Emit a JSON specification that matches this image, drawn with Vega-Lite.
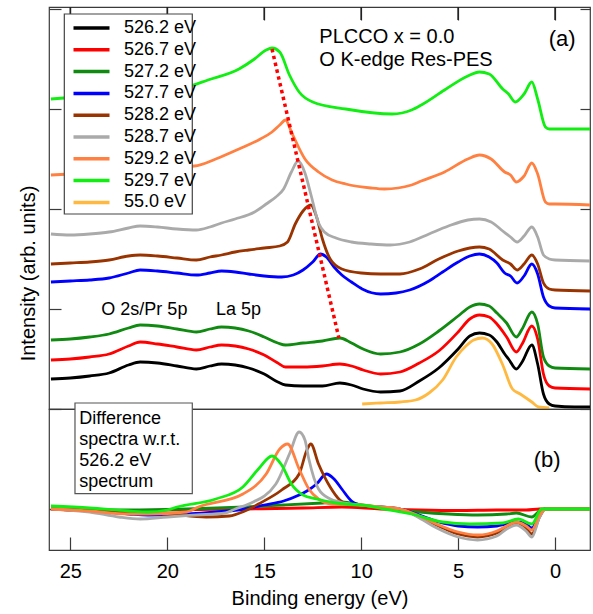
{
 "$schema": "https://vega.github.io/schema/vega-lite/v6.json",
 "padding": {"left": 17, "top": 5, "right": 5, "bottom": 5},
 "config": {
  "font": "Liberation Sans",
  "view": {"stroke": "#3a3a3a", "strokeWidth": 1.2},
  "axis": {"domain": false, "grid": false, "tickColor": "#3a3a3a", "tickWidth": 1.2, "labelColor": "#000", "titleColor": "#000", "labelFont": "Liberation Sans", "titleFont": "Liberation Sans", "titleFontWeight": "normal"},
  "text": {"font": "Liberation Sans", "color": "#000"}
 },
 "datasets": {
  "xt": [{"e": 25}, {"e": 20}, {"e": 15}, {"e": 10}, {"e": 5}, {"e": 0}],
  "a": [
   {"s":"526.2 eV","e":26,"v":0.30},{"s":"526.2 eV","e":25,"v":0.31},{"s":"526.2 eV","e":24,"v":0.33},{"s":"526.2 eV","e":23,"v":0.36},{"s":"526.2 eV","e":22,"v":0.44},{"s":"526.2 eV","e":21.4,"v":0.47},{"s":"526.2 eV","e":20.5,"v":0.46},{"s":"526.2 eV","e":19.5,"v":0.43},{"s":"526.2 eV","e":18.5,"v":0.40},{"s":"526.2 eV","e":17.8,"v":0.43},{"s":"526.2 eV","e":17.2,"v":0.45},{"s":"526.2 eV","e":16.5,"v":0.44},{"s":"526.2 eV","e":15.8,"v":0.41},{"s":"526.2 eV","e":15,"v":0.35},{"s":"526.2 eV","e":14.3,"v":0.27},{"s":"526.2 eV","e":13.9,"v":0.24},{"s":"526.2 eV","e":13,"v":0.23},{"s":"526.2 eV","e":12,"v":0.23},{"s":"526.2 eV","e":11.1,"v":0.26},{"s":"526.2 eV","e":10.5,"v":0.24},{"s":"526.2 eV","e":9.9,"v":0.20},{"s":"526.2 eV","e":9,"v":0.17},{"s":"526.2 eV","e":8,"v":0.18},{"s":"526.2 eV","e":7,"v":0.28},{"s":"526.2 eV","e":6,"v":0.41},{"s":"526.2 eV","e":5,"v":0.60},{"s":"526.2 eV","e":4.4,"v":0.73},{"s":"526.2 eV","e":3.9,"v":0.76},{"s":"526.2 eV","e":3.4,"v":0.74},{"s":"526.2 eV","e":3.0,"v":0.67},{"s":"526.2 eV","e":2.6,"v":0.55},{"s":"526.2 eV","e":2.4,"v":0.50},{"s":"526.2 eV","e":2.0,"v":0.40},{"s":"526.2 eV","e":1.7,"v":0.47},{"s":"526.2 eV","e":1.2,"v":0.64},{"s":"526.2 eV","e":0.9,"v":0.45},{"s":"526.2 eV","e":0.6,"v":0.15},{"s":"526.2 eV","e":0.3,"v":0.05},{"s":"526.2 eV","e":0,"v":0.03},{"s":"526.2 eV","e":-1,"v":0.02},{"s":"526.2 eV","e":-1.8,"v":0.02},
   {"s":"526.7 eV","e":26,"v":0.49},{"s":"526.7 eV","e":25,"v":0.50},{"s":"526.7 eV","e":24,"v":0.52},{"s":"526.7 eV","e":23,"v":0.55},{"s":"526.7 eV","e":22,"v":0.63},{"s":"526.7 eV","e":21.4,"v":0.67},{"s":"526.7 eV","e":20.5,"v":0.65},{"s":"526.7 eV","e":19.5,"v":0.62},{"s":"526.7 eV","e":18.5,"v":0.59},{"s":"526.7 eV","e":17.8,"v":0.62},{"s":"526.7 eV","e":17.2,"v":0.64},{"s":"526.7 eV","e":16.5,"v":0.63},{"s":"526.7 eV","e":15.8,"v":0.60},{"s":"526.7 eV","e":15,"v":0.54},{"s":"526.7 eV","e":14.3,"v":0.46},{"s":"526.7 eV","e":13.9,"v":0.42},{"s":"526.7 eV","e":13,"v":0.42},{"s":"526.7 eV","e":12,"v":0.43},{"s":"526.7 eV","e":11.1,"v":0.45},{"s":"526.7 eV","e":10.5,"v":0.43},{"s":"526.7 eV","e":9.9,"v":0.39},{"s":"526.7 eV","e":9,"v":0.35},{"s":"526.7 eV","e":8,"v":0.37},{"s":"526.7 eV","e":7,"v":0.46},{"s":"526.7 eV","e":6,"v":0.58},{"s":"526.7 eV","e":5,"v":0.77},{"s":"526.7 eV","e":4.4,"v":0.90},{"s":"526.7 eV","e":3.9,"v":0.94},{"s":"526.7 eV","e":3.4,"v":0.92},{"s":"526.7 eV","e":3.0,"v":0.85},{"s":"526.7 eV","e":2.5,"v":0.72},{"s":"526.7 eV","e":2.0,"v":0.57},{"s":"526.7 eV","e":1.7,"v":0.65},{"s":"526.7 eV","e":1.2,"v":0.83},{"s":"526.7 eV","e":0.9,"v":0.70},{"s":"526.7 eV","e":0.6,"v":0.35},{"s":"526.7 eV","e":0.3,"v":0.23},{"s":"526.7 eV","e":0,"v":0.21},{"s":"526.7 eV","e":-1.8,"v":0.20},
   {"s":"527.2 eV","e":26,"v":0.69},{"s":"527.2 eV","e":25,"v":0.70},{"s":"527.2 eV","e":24,"v":0.72},{"s":"527.2 eV","e":23,"v":0.75},{"s":"527.2 eV","e":22,"v":0.81},{"s":"527.2 eV","e":21.4,"v":0.84},{"s":"527.2 eV","e":20.5,"v":0.83},{"s":"527.2 eV","e":19.5,"v":0.80},{"s":"527.2 eV","e":18.5,"v":0.77},{"s":"527.2 eV","e":17.8,"v":0.80},{"s":"527.2 eV","e":17.2,"v":0.82},{"s":"527.2 eV","e":16.5,"v":0.81},{"s":"527.2 eV","e":15.8,"v":0.78},{"s":"527.2 eV","e":15,"v":0.72},{"s":"527.2 eV","e":14.3,"v":0.66},{"s":"527.2 eV","e":13.9,"v":0.64},{"s":"527.2 eV","e":13,"v":0.66},{"s":"527.2 eV","e":12,"v":0.68},{"s":"527.2 eV","e":11.1,"v":0.71},{"s":"527.2 eV","e":10.5,"v":0.66},{"s":"527.2 eV","e":9.9,"v":0.60},{"s":"527.2 eV","e":9,"v":0.55},{"s":"527.2 eV","e":8,"v":0.57},{"s":"527.2 eV","e":7,"v":0.65},{"s":"527.2 eV","e":6,"v":0.78},{"s":"527.2 eV","e":5,"v":0.93},{"s":"527.2 eV","e":4.4,"v":1.02},{"s":"527.2 eV","e":3.9,"v":1.05},{"s":"527.2 eV","e":3.4,"v":1.03},{"s":"527.2 eV","e":3.0,"v":0.96},{"s":"527.2 eV","e":2.5,"v":0.86},{"s":"527.2 eV","e":2.0,"v":0.72},{"s":"527.2 eV","e":1.7,"v":0.80},{"s":"527.2 eV","e":1.2,"v":0.97},{"s":"527.2 eV","e":0.9,"v":0.85},{"s":"527.2 eV","e":0.6,"v":0.52},{"s":"527.2 eV","e":0.3,"v":0.43},{"s":"527.2 eV","e":0,"v":0.41},{"s":"527.2 eV","e":-1.8,"v":0.40},
   {"s":"527.7 eV","e":26,"v":1.27},{"s":"527.7 eV","e":25,"v":1.28},{"s":"527.7 eV","e":24,"v":1.29},{"s":"527.7 eV","e":23,"v":1.31},{"s":"527.7 eV","e":22,"v":1.36},{"s":"527.7 eV","e":21.4,"v":1.39},{"s":"527.7 eV","e":20.5,"v":1.38},{"s":"527.7 eV","e":19.5,"v":1.36},{"s":"527.7 eV","e":18.5,"v":1.34},{"s":"527.7 eV","e":17.8,"v":1.36},{"s":"527.7 eV","e":17.2,"v":1.38},{"s":"527.7 eV","e":16.5,"v":1.37},{"s":"527.7 eV","e":15.8,"v":1.35},{"s":"527.7 eV","e":15,"v":1.33},{"s":"527.7 eV","e":14.1,"v":1.32},{"s":"527.7 eV","e":13.5,"v":1.34},{"s":"527.7 eV","e":13,"v":1.39},{"s":"527.7 eV","e":12.5,"v":1.47},{"s":"527.7 eV","e":12.1,"v":1.55},{"s":"527.7 eV","e":11.8,"v":1.52},{"s":"527.7 eV","e":11.4,"v":1.42},{"s":"527.7 eV","e":11,"v":1.34},{"s":"527.7 eV","e":10.5,"v":1.27},{"s":"527.7 eV","e":9.95,"v":1.20},{"s":"527.7 eV","e":9,"v":1.15},{"s":"527.7 eV","e":8.2,"v":1.16},{"s":"527.7 eV","e":7.5,"v":1.19},{"s":"527.7 eV","e":6.5,"v":1.28},{"s":"527.7 eV","e":5.8,"v":1.37},{"s":"527.7 eV","e":5,"v":1.47},{"s":"527.7 eV","e":4.4,"v":1.53},{"s":"527.7 eV","e":3.9,"v":1.55},{"s":"527.7 eV","e":3.4,"v":1.52},{"s":"527.7 eV","e":3.0,"v":1.46},{"s":"527.7 eV","e":2.6,"v":1.36},{"s":"527.7 eV","e":2.3,"v":1.33},{"s":"527.7 eV","e":1.96,"v":1.26},{"s":"527.7 eV","e":1.6,"v":1.33},{"s":"527.7 eV","e":1.2,"v":1.45},{"s":"527.7 eV","e":0.9,"v":1.35},{"s":"527.7 eV","e":0.6,"v":1.12},{"s":"527.7 eV","e":0.3,"v":1.03},{"s":"527.7 eV","e":0,"v":1.01},{"s":"527.7 eV","e":-1.8,"v":1.00},
   {"s":"528.2 eV","e":26,"v":1.45},{"s":"528.2 eV","e":25,"v":1.46},{"s":"528.2 eV","e":24,"v":1.47},{"s":"528.2 eV","e":23,"v":1.49},{"s":"528.2 eV","e":22,"v":1.53},{"s":"528.2 eV","e":21.4,"v":1.54},{"s":"528.2 eV","e":20.5,"v":1.53},{"s":"528.2 eV","e":19.5,"v":1.51},{"s":"528.2 eV","e":18.5,"v":1.49},{"s":"528.2 eV","e":17.8,"v":1.52},{"s":"528.2 eV","e":17.2,"v":1.54},{"s":"528.2 eV","e":16.5,"v":1.57},{"s":"528.2 eV","e":15.8,"v":1.59},{"s":"528.2 eV","e":15,"v":1.61},{"s":"528.2 eV","e":14.2,"v":1.63},{"s":"528.2 eV","e":13.8,"v":1.67},{"s":"528.2 eV","e":13.4,"v":1.85},{"s":"528.2 eV","e":13.0,"v":1.98},{"s":"528.2 eV","e":12.6,"v":2.04},{"s":"528.2 eV","e":12.3,"v":1.92},{"s":"528.2 eV","e":12.0,"v":1.70},{"s":"528.2 eV","e":11.6,"v":1.50},{"s":"528.2 eV","e":11,"v":1.40},{"s":"528.2 eV","e":10,"v":1.36},{"s":"528.2 eV","e":9,"v":1.35},{"s":"528.2 eV","e":8,"v":1.35},{"s":"528.2 eV","e":7,"v":1.40},{"s":"528.2 eV","e":6,"v":1.50},{"s":"528.2 eV","e":5,"v":1.58},{"s":"528.2 eV","e":4.4,"v":1.61},{"s":"528.2 eV","e":3.9,"v":1.62},{"s":"528.2 eV","e":3.4,"v":1.60},{"s":"528.2 eV","e":2.7,"v":1.49},{"s":"528.2 eV","e":2.3,"v":1.45},{"s":"528.2 eV","e":1.96,"v":1.39},{"s":"528.2 eV","e":1.6,"v":1.45},{"s":"528.2 eV","e":1.2,"v":1.54},{"s":"528.2 eV","e":0.9,"v":1.45},{"s":"528.2 eV","e":0.6,"v":1.26},{"s":"528.2 eV","e":0.3,"v":1.20},{"s":"528.2 eV","e":0,"v":1.19},{"s":"528.2 eV","e":-1.8,"v":1.18},
   {"s":"528.7 eV","e":26,"v":1.75},{"s":"528.7 eV","e":25,"v":1.74},{"s":"528.7 eV","e":24,"v":1.75},{"s":"528.7 eV","e":23,"v":1.77},{"s":"528.7 eV","e":22,"v":1.81},{"s":"528.7 eV","e":21.4,"v":1.83},{"s":"528.7 eV","e":20.5,"v":1.82},{"s":"528.7 eV","e":19.5,"v":1.80},{"s":"528.7 eV","e":18.5,"v":1.79},{"s":"528.7 eV","e":17.8,"v":1.82},{"s":"528.7 eV","e":17.2,"v":1.86},{"s":"528.7 eV","e":16.5,"v":1.90},{"s":"528.7 eV","e":15.5,"v":1.97},{"s":"528.7 eV","e":14.9,"v":2.05},{"s":"528.7 eV","e":14.4,"v":2.12},{"s":"528.7 eV","e":14.0,"v":2.20},{"s":"528.7 eV","e":13.6,"v":2.37},{"s":"528.7 eV","e":13.25,"v":2.48},{"s":"528.7 eV","e":12.9,"v":2.36},{"s":"528.7 eV","e":12.6,"v":2.15},{"s":"528.7 eV","e":12.2,"v":1.86},{"s":"528.7 eV","e":11.9,"v":1.77},{"s":"528.7 eV","e":11.3,"v":1.71},{"s":"528.7 eV","e":10.5,"v":1.67},{"s":"528.7 eV","e":9.5,"v":1.65},{"s":"528.7 eV","e":8.5,"v":1.64},{"s":"528.7 eV","e":7.5,"v":1.67},{"s":"528.7 eV","e":6.5,"v":1.75},{"s":"528.7 eV","e":5.5,"v":1.83},{"s":"528.7 eV","e":4.5,"v":1.89},{"s":"528.7 eV","e":3.9,"v":1.90},{"s":"528.7 eV","e":3.3,"v":1.87},{"s":"528.7 eV","e":2.7,"v":1.78},{"s":"528.7 eV","e":2.3,"v":1.72},{"s":"528.7 eV","e":1.96,"v":1.67},{"s":"528.7 eV","e":1.6,"v":1.73},{"s":"528.7 eV","e":1.2,"v":1.82},{"s":"528.7 eV","e":0.9,"v":1.72},{"s":"528.7 eV","e":0.6,"v":1.54},{"s":"528.7 eV","e":0.3,"v":1.50},{"s":"528.7 eV","e":0,"v":1.49},{"s":"528.7 eV","e":-1.8,"v":1.48},
   {"s":"529.2 eV","e":26,"v":2.34},{"s":"529.2 eV","e":25,"v":2.35},{"s":"529.2 eV","e":24,"v":2.36},{"s":"529.2 eV","e":23,"v":2.38},{"s":"529.2 eV","e":22,"v":2.40},{"s":"529.2 eV","e":21,"v":2.41},{"s":"529.2 eV","e":20,"v":2.42},{"s":"529.2 eV","e":18.6,"v":2.43},{"s":"529.2 eV","e":17.5,"v":2.50},{"s":"529.2 eV","e":16.3,"v":2.60},{"s":"529.2 eV","e":15.2,"v":2.70},{"s":"529.2 eV","e":14.6,"v":2.77},{"s":"529.2 eV","e":14.2,"v":2.84},{"s":"529.2 eV","e":13.9,"v":2.89},{"s":"529.2 eV","e":13.6,"v":2.77},{"s":"529.2 eV","e":12.9,"v":2.50},{"s":"529.2 eV","e":12.2,"v":2.37},{"s":"529.2 eV","e":11.5,"v":2.29},{"s":"529.2 eV","e":10.8,"v":2.25},{"s":"529.2 eV","e":9.5,"v":2.21},{"s":"529.2 eV","e":8.8,"v":2.20},{"s":"529.2 eV","e":7.4,"v":2.24},{"s":"529.2 eV","e":6.9,"v":2.28},{"s":"529.2 eV","e":5.7,"v":2.37},{"s":"529.2 eV","e":4.5,"v":2.50},{"s":"529.2 eV","e":3.9,"v":2.54},{"s":"529.2 eV","e":3.3,"v":2.50},{"s":"529.2 eV","e":2.6,"v":2.37},{"s":"529.2 eV","e":2.3,"v":2.34},{"s":"529.2 eV","e":2.0,"v":2.27},{"s":"529.2 eV","e":1.6,"v":2.33},{"s":"529.2 eV","e":1.2,"v":2.46},{"s":"529.2 eV","e":0.9,"v":2.35},{"s":"529.2 eV","e":0.5,"v":2.07},{"s":"529.2 eV","e":0.3,"v":2.05},{"s":"529.2 eV","e":0,"v":2.05},{"s":"529.2 eV","e":-1.8,"v":2.04},
   {"s":"529.7 eV","e":26,"v":3.10},{"s":"529.7 eV","e":24,"v":3.13},{"s":"529.7 eV","e":22,"v":3.16},{"s":"529.7 eV","e":20,"v":3.19},{"s":"529.7 eV","e":19,"v":3.22},{"s":"529.7 eV","e":17.9,"v":3.29},{"s":"529.7 eV","e":16.3,"v":3.40},{"s":"529.7 eV","e":15.5,"v":3.50},{"s":"529.7 eV","e":14.9,"v":3.59},{"s":"529.7 eV","e":14.6,"v":3.61},{"s":"529.7 eV","e":14.2,"v":3.57},{"s":"529.7 eV","e":13.7,"v":3.34},{"s":"529.7 eV","e":13.2,"v":3.17},{"s":"529.7 eV","e":12.5,"v":3.07},{"s":"529.7 eV","e":10.8,"v":3.00},{"s":"529.7 eV","e":8.4,"v":2.95},{"s":"529.7 eV","e":7.4,"v":2.99},{"s":"529.7 eV","e":6.9,"v":3.04},{"s":"529.7 eV","e":5.7,"v":3.19},{"s":"529.7 eV","e":4.5,"v":3.33},{"s":"529.7 eV","e":3.9,"v":3.37},{"s":"529.7 eV","e":3.4,"v":3.35},{"s":"529.7 eV","e":2.7,"v":3.20},{"s":"529.7 eV","e":2.4,"v":3.15},{"s":"529.7 eV","e":2.06,"v":3.07},{"s":"529.7 eV","e":1.6,"v":3.15},{"s":"529.7 eV","e":1.2,"v":3.27},{"s":"529.7 eV","e":0.9,"v":3.10},{"s":"529.7 eV","e":0.5,"v":2.82},{"s":"529.7 eV","e":0.3,"v":2.80},{"s":"529.7 eV","e":0,"v":2.80},{"s":"529.7 eV","e":-1.8,"v":2.80},
   {"s":"55.0 eV","e":9.95,"v":0.05},{"s":"55.0 eV","e":9,"v":0.06},{"s":"55.0 eV","e":8,"v":0.07},{"s":"55.0 eV","e":7.2,"v":0.09},{"s":"55.0 eV","e":6.5,"v":0.16},{"s":"55.0 eV","e":5.8,"v":0.29},{"s":"55.0 eV","e":5.1,"v":0.52},{"s":"55.0 eV","e":4.6,"v":0.63},{"s":"55.0 eV","e":4.2,"v":0.69},{"s":"55.0 eV","e":3.75,"v":0.71},{"s":"55.0 eV","e":3.25,"v":0.65},{"s":"55.0 eV","e":2.7,"v":0.44},{"s":"55.0 eV","e":2.2,"v":0.20},{"s":"55.0 eV","e":1.8,"v":0.15},{"s":"55.0 eV","e":1.2,"v":0.07},{"s":"55.0 eV","e":0.85,"v":0.02},{"s":"55.0 eV","e":0.3,"v":0.01}
  ],
  "b": [
   {"s":"526.7 eV","e":26,"v":0},{"s":"526.7 eV","e":22,"v":-0.02},{"s":"526.7 eV","e":20,"v":-0.01},{"s":"526.7 eV","e":16,"v":0},{"s":"526.7 eV","e":13,"v":0.01},{"s":"526.7 eV","e":11,"v":0.02},{"s":"526.7 eV","e":9,"v":0},{"s":"526.7 eV","e":7,"v":-0.01},{"s":"526.7 eV","e":5,"v":-0.015},{"s":"526.7 eV","e":3,"v":-0.01},{"s":"526.7 eV","e":1.5,"v":-0.01},{"s":"526.7 eV","e":0.8,"v":0},{"s":"526.7 eV","e":-1.8,"v":0},
   {"s":"527.2 eV","e":26,"v":0},{"s":"527.2 eV","e":22,"v":-0.01},{"s":"527.2 eV","e":19,"v":0},{"s":"527.2 eV","e":16,"v":0.02},{"s":"527.2 eV","e":14,"v":0.04},{"s":"527.2 eV","e":12,"v":0.06},{"s":"527.2 eV","e":11,"v":0.07},{"s":"527.2 eV","e":10,"v":0.04},{"s":"527.2 eV","e":8.5,"v":0},{"s":"527.2 eV","e":7,"v":-0.03},{"s":"527.2 eV","e":5.5,"v":-0.05},{"s":"527.2 eV","e":4,"v":-0.06},{"s":"527.2 eV","e":2.5,"v":-0.05},{"s":"527.2 eV","e":2,"v":-0.04},{"s":"527.2 eV","e":1.2,"v":-0.08},{"s":"527.2 eV","e":0.8,"v":-0.02},{"s":"527.2 eV","e":0.5,"v":0},{"s":"527.2 eV","e":-1.8,"v":0},
   {"s":"527.7 eV","e":26,"v":0},{"s":"527.7 eV","e":24,"v":-0.02},{"s":"527.7 eV","e":22,"v":-0.05},{"s":"527.7 eV","e":21,"v":-0.06},{"s":"527.7 eV","e":19,"v":-0.05},{"s":"527.7 eV","e":17.5,"v":-0.03},{"s":"527.7 eV","e":16,"v":0},{"s":"527.7 eV","e":15,"v":0.04},{"s":"527.7 eV","e":14,"v":0.08},{"s":"527.7 eV","e":13.2,"v":0.14},{"s":"527.7 eV","e":12.8,"v":0.18},{"s":"527.7 eV","e":12.3,"v":0.25},{"s":"527.7 eV","e":11.8,"v":0.35},{"s":"527.7 eV","e":11.4,"v":0.30},{"s":"527.7 eV","e":11,"v":0.20},{"s":"527.7 eV","e":10.5,"v":0.08},{"s":"527.7 eV","e":10,"v":0.04},{"s":"527.7 eV","e":9,"v":0.02},{"s":"527.7 eV","e":8,"v":0},{"s":"527.7 eV","e":7,"v":-0.06},{"s":"527.7 eV","e":6,"v":-0.13},{"s":"527.7 eV","e":5,"v":-0.17},{"s":"527.7 eV","e":4,"v":-0.18},{"s":"527.7 eV","e":3,"v":-0.17},{"s":"527.7 eV","e":2.5,"v":-0.15},{"s":"527.7 eV","e":2,"v":-0.13},{"s":"527.7 eV","e":1.5,"v":-0.15},{"s":"527.7 eV","e":1.2,"v":-0.19},{"s":"527.7 eV","e":0.8,"v":-0.05},{"s":"527.7 eV","e":0.5,"v":0},{"s":"527.7 eV","e":-1.8,"v":0},
   {"s":"528.2 eV","e":26,"v":0},{"s":"528.2 eV","e":24,"v":-0.02},{"s":"528.2 eV","e":22,"v":-0.04},{"s":"528.2 eV","e":20,"v":-0.05},{"s":"528.2 eV","e":18,"v":-0.08},{"s":"528.2 eV","e":16.8,"v":-0.07},{"s":"528.2 eV","e":16,"v":-0.02},{"s":"528.2 eV","e":15.3,"v":0.05},{"s":"528.2 eV","e":14.1,"v":0.19},{"s":"528.2 eV","e":13.2,"v":0.35},{"s":"528.2 eV","e":12.8,"v":0.59},{"s":"528.2 eV","e":12.6,"v":0.65},{"s":"528.2 eV","e":12.2,"v":0.45},{"s":"528.2 eV","e":11.6,"v":0.22},{"s":"528.2 eV","e":11.1,"v":0.09},{"s":"528.2 eV","e":10.5,"v":0.04},{"s":"528.2 eV","e":9,"v":0.02},{"s":"528.2 eV","e":8,"v":0},{"s":"528.2 eV","e":7,"v":-0.08},{"s":"528.2 eV","e":6,"v":-0.17},{"s":"528.2 eV","e":5,"v":-0.25},{"s":"528.2 eV","e":4,"v":-0.28},{"s":"528.2 eV","e":3,"v":-0.24},{"s":"528.2 eV","e":2.5,"v":-0.18},{"s":"528.2 eV","e":2,"v":-0.14},{"s":"528.2 eV","e":1.5,"v":-0.19},{"s":"528.2 eV","e":1.2,"v":-0.25},{"s":"528.2 eV","e":0.8,"v":-0.08},{"s":"528.2 eV","e":0.5,"v":0},{"s":"528.2 eV","e":-1.8,"v":0},
   {"s":"528.7 eV","e":26,"v":0},{"s":"528.7 eV","e":24,"v":-0.03},{"s":"528.7 eV","e":22.5,"v":-0.08},{"s":"528.7 eV","e":21.4,"v":-0.10},{"s":"528.7 eV","e":20,"v":-0.08},{"s":"528.7 eV","e":18.5,"v":-0.06},{"s":"528.7 eV","e":17,"v":-0.04},{"s":"528.7 eV","e":16.5,"v":0},{"s":"528.7 eV","e":15.8,"v":0.05},{"s":"528.7 eV","e":14.4,"v":0.25},{"s":"528.7 eV","e":13.7,"v":0.55},{"s":"528.7 eV","e":13.2,"v":0.77},{"s":"528.7 eV","e":12.9,"v":0.69},{"s":"528.7 eV","e":12.7,"v":0.50},{"s":"528.7 eV","e":12.2,"v":0.20},{"s":"528.7 eV","e":11.6,"v":0.10},{"s":"528.7 eV","e":11.1,"v":0.07},{"s":"528.7 eV","e":10,"v":0.04},{"s":"528.7 eV","e":9,"v":0.02},{"s":"528.7 eV","e":8,"v":0},{"s":"528.7 eV","e":7,"v":-0.09},{"s":"528.7 eV","e":6,"v":-0.20},{"s":"528.7 eV","e":5,"v":-0.28},{"s":"528.7 eV","e":4,"v":-0.31},{"s":"528.7 eV","e":3,"v":-0.27},{"s":"528.7 eV","e":2.5,"v":-0.20},{"s":"528.7 eV","e":2,"v":-0.16},{"s":"528.7 eV","e":1.5,"v":-0.22},{"s":"528.7 eV","e":1.2,"v":-0.28},{"s":"528.7 eV","e":0.8,"v":-0.08},{"s":"528.7 eV","e":0.5,"v":0},{"s":"528.7 eV","e":-1.8,"v":0},
   {"s":"529.2 eV","e":26,"v":0},{"s":"529.2 eV","e":24,"v":-0.02},{"s":"529.2 eV","e":22,"v":-0.05},{"s":"529.2 eV","e":21,"v":-0.05},{"s":"529.2 eV","e":19,"v":-0.03},{"s":"529.2 eV","e":18.4,"v":0.02},{"s":"529.2 eV","e":16.1,"v":0.15},{"s":"529.2 eV","e":14.9,"v":0.35},{"s":"529.2 eV","e":14.2,"v":0.60},{"s":"529.2 eV","e":13.8,"v":0.65},{"s":"529.2 eV","e":13.2,"v":0.40},{"s":"529.2 eV","e":12.7,"v":0.20},{"s":"529.2 eV","e":12.2,"v":0.10},{"s":"529.2 eV","e":11.5,"v":0.05},{"s":"529.2 eV","e":10,"v":0.04},{"s":"529.2 eV","e":9,"v":0.02},{"s":"529.2 eV","e":8,"v":0},{"s":"529.2 eV","e":7,"v":-0.07},{"s":"529.2 eV","e":6,"v":-0.16},{"s":"529.2 eV","e":5,"v":-0.23},{"s":"529.2 eV","e":4,"v":-0.26},{"s":"529.2 eV","e":3,"v":-0.22},{"s":"529.2 eV","e":2.5,"v":-0.17},{"s":"529.2 eV","e":2,"v":-0.13},{"s":"529.2 eV","e":1.5,"v":-0.17},{"s":"529.2 eV","e":1.2,"v":-0.21},{"s":"529.2 eV","e":0.8,"v":-0.06},{"s":"529.2 eV","e":0.5,"v":0},{"s":"529.2 eV","e":-1.8,"v":0},
   {"s":"529.7 eV","e":26,"v":0.03},{"s":"529.7 eV","e":24,"v":0.01},{"s":"529.7 eV","e":22,"v":-0.02},{"s":"529.7 eV","e":21,"v":-0.03},{"s":"529.7 eV","e":20,"v":-0.01},{"s":"529.7 eV","e":19.5,"v":0.02},{"s":"529.7 eV","e":17.5,"v":0.10},{"s":"529.7 eV","e":16.1,"v":0.22},{"s":"529.7 eV","e":15.3,"v":0.40},{"s":"529.7 eV","e":14.6,"v":0.53},{"s":"529.7 eV","e":14.1,"v":0.44},{"s":"529.7 eV","e":13.6,"v":0.25},{"s":"529.7 eV","e":13.0,"v":0.14},{"s":"529.7 eV","e":12.3,"v":0.10},{"s":"529.7 eV","e":11.3,"v":0.06},{"s":"529.7 eV","e":9.6,"v":0.03},{"s":"529.7 eV","e":8.8,"v":0},{"s":"529.7 eV","e":7.4,"v":-0.05},{"s":"529.7 eV","e":5.8,"v":-0.13},{"s":"529.7 eV","e":4.4,"v":-0.15},{"s":"529.7 eV","e":2.7,"v":-0.14},{"s":"529.7 eV","e":1.9,"v":-0.10},{"s":"529.7 eV","e":1.2,"v":-0.15},{"s":"529.7 eV","e":0.7,"v":0},{"s":"529.7 eV","e":-1.8,"v":0}
  ]
 },
 "spacing": 0,
 "bounds": "flush",
 "resolve": {"scale": {"color": "independent"}, "legend": {"color": "independent"}},
 "vconcat": [
  {
   "width": 541, "height": 402,
   "encoding": {
    "x": {"field": "e", "type": "quantitative", "scale": {"domain": [26.1, -1.8], "nice": false, "zero": false},
          "axis": {"orient": "top", "values": [25, 20, 15, 10, 5, 0], "labels": false, "ticks": true, "tickSize": 13, "offset": -13, "title": null}}
   },
   "resolve": {"axis": {"y": "independent"}},
   "layer": [
    {
     "data": {"name": "xt"},
     "mark": {"type": "tick", "orient": "vertical", "thickness": 1.6, "size": 13, "color": "#222222", "opacity": 1},
     "encoding": {"y": {"datum": 3.955, "type": "quantitative", "axis": null}}
    },
    {
     "data": {"name": "a"},
     "mark": {"type": "line", "strokeWidth": 2.8, "interpolate": "monotone"},
     "encoding": {
      "y": {"field": "v", "type": "quantitative", "scale": {"domain": [0, 4.02], "nice": false, "zero": false},
            "axis": {"orient": "left", "values": [0, 1, 2, 3, 4], "labels": false, "tickSize": -12, "title": "Intensity (arb. units)", "titleFontSize": 20, "titleY": 266, "titlePadding": 10}},
      "color": {"field": "s", "type": "nominal",
                "scale": {"domain": ["526.2 eV", "526.7 eV", "527.2 eV", "527.7 eV", "528.2 eV", "528.7 eV", "529.2 eV", "529.7 eV", "55.0 eV"],
                          "range": ["#000000", "#ff0000", "#108a10", "#0000ff", "#993300", "#aaaaaa", "#ff8040", "#11ee11", "#ffb940"]},
                "legend": {"orient": "none", "legendX": 15, "legendY": 7, "title": null, "symbolType": "M-1,0H7", "symbolSize": 81, "symbolStrokeWidth": 3.5, "labelFontSize": 18, "labelFont": "Liberation Sans", "labelColor": "#000", "labelOffset": 37, "rowPadding": 3.8, "padding": 5}}
     }
    },
    {
     "data": {"values": [{"e": 25.31, "e2": 18.71, "v": 3.95, "v2": 1.95}]},
     "mark": {"type": "rect", "fill": "#ffffff", "stroke": "#444444", "strokeWidth": 1.2},
     "encoding": {"x2": {"field": "e2"}, "y": {"field": "v", "type": "quantitative", "axis": null}, "y2": {"field": "v2"}}
    },
    {
     "data": {"values": [{"e": 14.6, "v": 3.60}, {"e": 11.15, "v": 0.71}]},
     "mark": {"type": "line", "color": "#ff0000", "strokeWidth": 3.5, "strokeDash": [3.5, 3.5]},
     "encoding": {
      "y": {"field": "v", "type": "quantitative", "axis": {"orient": "right", "values": [0, 1, 2, 3, 4], "labels": false, "tickSize": -10, "title": null}}
     }
    },
    {
     "data": {"values": [{"e": 12.16, "v": 3.663, "t": "PLCCO x = 0.0"}, {"e": 12.16, "v": 3.435, "t": "O K-edge Res-PES"}]},
     "mark": {"type": "text", "align": "left", "baseline": "alphabetic", "fontSize": 20},
     "encoding": {"y": {"field": "v", "type": "quantitative", "axis": null}, "text": {"field": "t"}}
    },
    {
     "data": {"values": [{"e": -0.36, "v": 3.70, "t": "(a)"}]},
     "mark": {"type": "text", "align": "center", "baseline": "middle", "fontSize": 22},
     "encoding": {"y": {"field": "v", "type": "quantitative", "axis": null}, "text": {"field": "t"}}
    },
    {
     "data": {"values": [{"e": 23.4, "v": 0.943, "t": "O 2s/Pr 5p"}, {"e": 17.49, "v": 0.943, "t": "La 5p"}]},
     "mark": {"type": "text", "align": "left", "baseline": "alphabetic", "fontSize": 18},
     "encoding": {"y": {"field": "v", "type": "quantitative", "axis": null}, "text": {"field": "t"}}
    }
   ]
  },
  {
   "width": 541, "height": 141,
   "encoding": {
    "x": {"field": "e", "type": "quantitative", "scale": {"domain": [26.1, -1.8], "nice": false, "zero": false},
          "axis": {"orient": "bottom", "values": [25, 20, 15, 10, 5, 0], "ticks": true, "tickSize": 13, "offset": -13, "labelPadding": 11, "labelFontSize": 20, "title": "Binding energy (eV)", "titleFontSize": 20, "titlePadding": 7}},
    "y": {"field": "v", "type": "quantitative", "scale": {"domain": [-0.41, 1.0], "nice": false, "zero": false},
          "axis": {"orient": "left", "values": [0], "labels": false, "tickSize": -12, "title": null}}
   },
   "layer": [
    {
     "data": {"name": "xt"},
     "mark": {"type": "tick", "orient": "vertical", "thickness": 1.6, "size": 13, "color": "#222222", "opacity": 1},
     "encoding": {"y": {"datum": -0.345, "type": "quantitative"}}
    },
    {
     "data": {"name": "b"},
     "mark": {"type": "line", "strokeWidth": 2.8, "interpolate": "monotone"},
     "encoding": {
      "color": {"field": "s", "type": "nominal",
                "scale": {"domain": ["526.7 eV", "527.2 eV", "527.7 eV", "528.2 eV", "528.7 eV", "529.2 eV", "529.7 eV"],
                          "range": ["#ff0000", "#108a10", "#0000ff", "#993300", "#aaaaaa", "#ff8040", "#11ee11"]},
                "legend": null}
     }
    },
    {
     "data": {"values": [{"e": 24.76, "e2": 18.71, "v": 1.06, "v2": 0.153}]},
     "mark": {"type": "rect", "fill": "#ffffff", "stroke": "#555555", "strokeWidth": 1.2},
     "encoding": {"x2": {"field": "e2"}, "y2": {"field": "v2"}}
    },
    {
     "data": {"values": [{"e": 24.54, "v": 0.85, "t": "Difference\nspectra w.r.t.\n526.2 eV\nspectrum"}]},
     "mark": {"type": "text", "align": "left", "baseline": "alphabetic", "fontSize": 18, "lineBreak": "\n", "lineHeight": 21},
     "encoding": {"text": {"field": "t"}}
    },
    {
     "data": {"values": [{"e": 0.41, "v": 0.49, "t": "(b)"}]},
     "mark": {"type": "text", "align": "center", "baseline": "middle", "fontSize": 22},
     "encoding": {"text": {"field": "t"}}
    }
   ]
  }
 ]
}
